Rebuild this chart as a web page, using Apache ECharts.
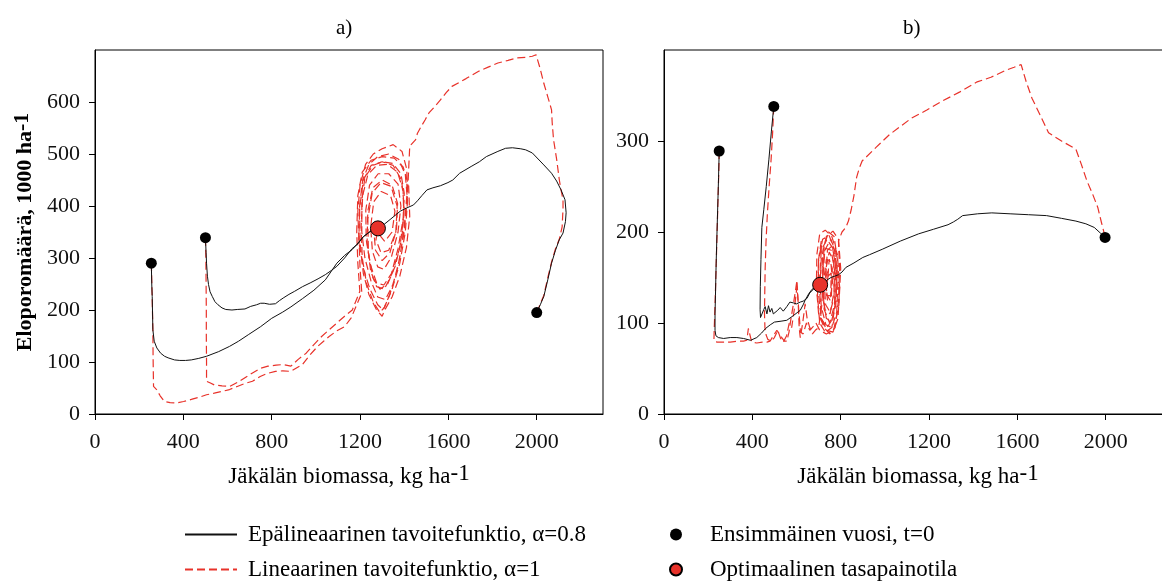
<!DOCTYPE html>
<html><head><meta charset="utf-8">
<script src="https://cdn.jsdelivr.net/npm/echarts@6/dist/echarts.min.js"></script>
<style>html,body{margin:0;padding:0;background:#fff}#c{width:1162px;height:586px}</style>
</head><body><div id="c"></div>
<script>
// ---- tick labels ----
const xTickLabels = [0, 400, 800, 1200, 1600, 2000];
const yTickLabelsA = [0, 100, 200, 300, 400, 500, 600];
const yTickLabelsB = [0, 100, 200, 300];
const panelTitles = ['a)', 'b)'];

// ---- series names ----
const nameNonlinear = 'Epälineaarinen tavoitefunktio, α=0.8';
const nameLinear = 'Lineaarinen tavoitefunktio, α=1';
const nameStart = 'Ensimmäinen vuosi, t=0';
const nameEq = 'Optimaalinen tasapainotila';

// ---- panel a: points [biomass, reindeer] ----
const aStart = [[255, 290], [500, 339], [2000, 195]];
const aEq = [[1281, 357]];
const aBlack1 = [[255,290],[257,250],[259,226],[262,162],[268,140],[280,127],[297,117],[315,111],[331,108],[360,104],[384,103],[410,103],[436,104],[470,107],[505,111],[560,120],[609,130],[650,140],[696,153],[750,168],[800,184],[850,196],[887,206],[940,222],[991,238],[1043,258],[1095,290],[1130,305],[1164,316],[1185,326],[1215,341],[1246,351],[1281,357]];
const aBlack2 = [[500,339],[503,310],[505,290],[509,265],[514,249],[521,235],[531,226],[543,216],[557,210],[575,204],[592,201],[620,200],[644,201],[679,202],[705,207],[731,210],[750,213],[766,213],[790,211],[817,212],[835,218],[852,223],[878,230],[904,236],[940,245],[974,252],[1010,260],[1043,268],[1070,276],[1095,284],[1130,300],[1164,318],[1190,327],[1215,341],[1246,351],[1281,357]];
const aBlack3 = [[2000,195],[2016,210],[2032,226],[2050,258],[2067,290],[2085,315],[2102,335],[2119,348],[2130,370],[2133,387],[2128,412],[2110,431],[2090,448],[2067,463],[2032,479],[1980,502],[1950,508],[1928,510],[1890,512],[1859,511],[1824,505],[1772,495],[1740,485],[1703,476],[1651,463],[1620,450],[1598,445],[1564,439],[1530,435],[1503,431],[1480,420],[1460,410],[1442,402],[1410,396],[1382,390],[1336,374],[1310,365],[1281,357]];
const aRed1 = [[255,290],[258,240],[262,162],[263,110],[265,53],[279,47],[295,35],[314,24],[340,22],[366,21],[401,24],[436,28],[470,32],[505,37],[540,40],[580,44],[609,47],[644,53],[680,59],[713,63],[748,72],[780,78],[817,82],[850,83],[887,82],[910,88],[939,95],[970,112],[1008,130],[1035,140],[1060,149],[1095,160],[1130,168],[1160,185],[1182,207],[1208,233],[1200,280],[1195,340],[1198,400],[1212,450],[1240,480],[1280,495],[1330,500],[1375,490],[1405,460],[1415,410],[1405,350],[1380,290],[1345,240],[1310,205],[1290,195],[1260,215],[1230,250],[1210,300],[1205,360],[1212,420],[1235,460],[1275,478],[1325,480],[1370,465],[1395,430],[1398,380],[1380,320],[1345,270],[1310,240],[1275,245],[1248,275],[1232,330],[1235,390],[1258,435],[1300,450],[1345,440],[1370,405],[1365,355],[1335,310],[1300,295],[1270,315],[1262,355],[1281,357]];
const aRed2 = [[500,339],[502,300],[503,250],[504,200],[504,150],[505,100],[505,63],[520,60],[540,56],[575,54],[609,53],[650,62],[713,79],[750,88],[783,92],[820,94],[852,95],[887,92],[920,105],[956,117],[990,133],[1026,149],[1060,162],[1095,175],[1130,188],[1165,200],[1199,236],[1190,290],[1185,350],[1190,420],[1210,465],[1250,488],[1300,495],[1355,492],[1395,475],[1420,440],[1425,380],[1410,320],[1380,265],[1345,225],[1312,200],[1300,188],[1275,200],[1240,230],[1215,270],[1200,330],[1198,395],[1215,450],[1250,478],[1300,485],[1350,478],[1388,450],[1400,400],[1390,340],[1360,285],[1325,250],[1290,240],[1258,262],[1238,310],[1235,375],[1255,425],[1295,445],[1340,438],[1368,400],[1362,350],[1330,315],[1295,310],[1272,335],[1281,357]];
const aRed3 = [[2000,195],[2016,212],[2032,228],[2050,262],[2067,292],[2085,318],[2102,336],[2115,360],[2119,395],[2119,412],[2110,431],[2102,451],[2090,490],[2076,528],[2070,560],[2067,585],[2050,610],[2032,636],[2015,665],[1997,691],[1980,688],[1950,686],[1911,685],[1870,680],[1824,675],[1780,667],[1737,659],[1680,645],[1616,630],[1590,618],[1564,604],[1540,592],[1512,579],[1495,566],[1477,553],[1460,540],[1451,527],[1425,515],[1420,470],[1415,420],[1400,350],[1370,280],[1335,230],[1305,200],[1280,210],[1245,240],[1215,280],[1195,330],[1190,390],[1200,440],[1225,480],[1260,500],[1300,510],[1350,518],[1390,505],[1412,470],[1412,420],[1400,360],[1380,300],[1350,250],[1315,220],[1280,225],[1250,255],[1222,300],[1208,350],[1208,410],[1222,455],[1258,478],[1300,485],[1348,482],[1385,462],[1400,425],[1395,375],[1372,318],[1342,270],[1308,248],[1275,252],[1247,287],[1228,335],[1226,392],[1243,440],[1282,462],[1330,462],[1372,442],[1385,400],[1372,350],[1342,302],[1308,278],[1280,283],[1256,313],[1248,360],[1262,408],[1296,428],[1338,420],[1358,390],[1345,350],[1312,332],[1287,345],[1281,357]];

// ---- panel b ----
const bStart = [[250, 289], [497, 338], [1997, 194]];
const bEq = [[707, 142]];
const bBlack1 = [[250,289],[247,260],[244,234],[240,200],[236,165],[233,130],[231,110],[231,92],[235,86],[246,84],[270,83],[300,84],[330,84],[360,83],[392,81],[420,84],[442,89],[460,94],[481,98],[500,101],[530,102],[556,103],[585,108],[617,114],[630,120],[639,125],[655,132],[670,137],[690,140],[707,142]];
const bBlack2 = [[497,338],[486,310],[475,280],[463,250],[452,225],[443,205],[439,170],[436,140],[435,115],[437,106],[443,106],[452,115],[458,118],[466,110],[473,119],[480,112],[488,116],[495,110],[503,112],[515,114],[526,117],[540,113],[556,118],[570,123],[587,122],[600,121],[617,123],[630,124],[647,127],[660,133],[680,138],[707,142]];
const bBlack3 = [[1997,194],[1975,199],[1948,205],[1910,209],[1865,212],[1800,215],[1732,218],[1650,219],[1567,220],[1484,221],[1420,220],[1352,218],[1330,214],[1310,211],[1286,208],[1220,203],[1153,198],[1070,190],[988,181],[930,175],[900,172],[860,166],[823,161],[806,156],[790,153],[756,150],[730,146],[707,142]];
const bRed1 = [[250,289],[248,265],[245,240],[241,205],[237,170],[233,135],[229,105],[227,90],[226,81],[240,79],[270,79],[300,79],[330,80],[360,80],[375,81],[382,94],[390,86],[397,79],[420,78],[445,79],[466,79],[480,80],[495,86],[511,92],[530,85],[545,80],[556,80],[566,90],[575,105],[586,121],[595,135],[602,147],[608,120],[612,95],[617,84],[628,100],[639,121],[648,105],[660,95],[672,88],[685,92],[700,95],[715,120],[720,160],[712,190],[700,170],[695,130],[705,100],[730,90],[760,95],[780,130],[785,170],[770,195],[745,200],[725,185],[718,150],[725,115],[750,100],[772,120],[778,160],[762,185],[740,180],[732,150],[740,125],[758,130],[762,160],[748,170],[742,150],[707,142]];
const bRed2 = [[497,338],[492,310],[485,280],[476,250],[468,220],[462,190],[458,160],[456,130],[455,110],[457,95],[462,87],[470,82],[485,80],[500,84],[515,92],[528,83],[540,79],[555,86],[567,100],[578,95],[590,115],[602,140],[610,115],[618,90],[630,88],[645,100],[660,92],[675,96],[688,100],[705,92],[735,88],[768,92],[792,120],[800,160],[790,192],[765,201],[735,195],[712,170],[705,135],[712,105],[738,95],[765,105],[782,140],[778,178],[755,192],[728,180],[718,145],[728,115],[752,110],[770,135],[768,168],[748,178],[732,158],[737,130],[755,130],[757,155],[707,142]];
const bRed3 = [[1997,195],[1980,211],[1964,227],[1940,242],[1915,256],[1890,274],[1865,291],[1800,300],[1741,309],[1700,330],[1666,347],[1640,365],[1617,384],[1585,381],[1550,378],[1480,370],[1418,365],[1340,354],[1253,343],[1190,334],[1120,325],[1070,316],[1021,307],[960,293],[897,278],[884,270],[872,260],[860,240],[848,225],[835,212],[823,205],[806,200],[790,190],[795,160],[790,125],[775,95],[750,88],[725,95],[700,110],[690,140],[692,175],[705,198],[730,202],[760,195],[785,175],[795,140],[788,105],[765,90],[738,92],[712,105],[698,135],[700,170],[718,192],[748,196],[772,180],[788,148],[782,112],[760,95],[733,98],[712,118],[705,150],[712,180],[738,192],[765,182],[780,155],[778,120],[758,102],[735,105],[718,130],[716,162],[732,182],[757,180],[772,158],[770,128],[752,112],[732,120],[724,148],[735,170],[755,168],[763,145],[752,125],[735,132],[730,150],[745,158],[740,146],[707,142]];

// ---- styling / layout ----
const serif = "'Liberation Serif', 'Times New Roman', serif";
const RED = '#e8322a';
const chart = echarts.init(document.getElementById('c'), null, { renderer: 'canvas' });

function xAxisFor(gi) {
  return {
    gridIndex: gi, type: 'value', min: 0, max: 2300, interval: 400,
    name: 'Jäkälän biomassa, kg ha{sup|-1}', nameLocation: 'middle', nameGap: 48,
    nameTextStyle: { fontFamily: serif, fontSize: 23, color: '#000', lineHeight: 30,
      rich: { sup: { fontFamily: serif, fontSize: 23, color: '#000', verticalAlign: 'top', lineHeight: 18 } } },
    axisLine: { show: true, lineStyle: { color: '#000', width: 1 } },
    axisTick: { show: true, inside: false, length: 6, lineStyle: { color: '#000' }, customValues: xTickLabels },
    splitLine: { show: false },
    axisLabel: { margin: 17, fontFamily: serif, fontSize: 22, color: '#111', customValues: xTickLabels,
      formatter: v => xTickLabels.indexOf(v) >= 0 ? String(v) : '' }
  };
}
function yAxisFor(gi, max, labels, withName) {
  const ax = {
    gridIndex: gi, type: 'value', min: 0, max: max, interval: 100,
    axisLine: { show: true, lineStyle: { color: '#000', width: 1 } },
    axisTick: { show: true, inside: false, length: 6, lineStyle: { color: '#000' }, customValues: labels },
    splitLine: { show: false },
    axisLabel: { margin: 15, fontFamily: serif, fontSize: 22, color: '#111', customValues: labels,
      formatter: v => labels.indexOf(v) >= 0 ? String(v) : '' }
  };
  if (withName) {
    ax.name = 'Eloporomäärä, 1000 ha{sup|-1}';
    ax.nameLocation = 'middle';
    ax.nameGap = 56;
    ax.nameTextStyle = { fontFamily: serif, fontSize: 22, fontWeight: 'bold', color: '#000', lineHeight: 28,
      rich: { sup: { fontFamily: serif, fontSize: 22, fontWeight: 'bold', color: '#000', verticalAlign: 'top', lineHeight: 17 } } };
  }
  return ax;
}
function blackLine(data, gi) {
  return { name: nameNonlinear, type: 'line', xAxisIndex: gi, yAxisIndex: gi, data: data,
    symbol: 'none', smooth: false, z: 3, lineStyle: { color: '#111', width: 1 }, itemStyle: { color: '#111' } };
}
function redLine(data, gi) {
  return { name: nameLinear, type: 'line', xAxisIndex: gi, yAxisIndex: gi, data: data,
    symbol: 'none', smooth: false, z: 2, lineStyle: { color: RED, width: 1.2, type: [8, 4] }, itemStyle: { color: RED } };
}
function startDots(data, gi) {
  return { name: nameStart, type: 'scatter', xAxisIndex: gi, yAxisIndex: gi, data: data,
    symbol: 'circle', symbolSize: 11, z: 5, itemStyle: { color: '#000', opacity: 1 } };
}
function eqDots(data, gi) {
  return { name: nameEq, type: 'scatter', xAxisIndex: gi, yAxisIndex: gi, data: data,
    symbol: 'circle', symbolSize: 15, z: 6, itemStyle: { color: RED, borderColor: '#000', borderWidth: 1, opacity: 1 } };
}

const legendText = { fontFamily: serif, fontSize: 23, color: '#000', lineHeight: 23 };

chart.setOption({
  animation: false,
  backgroundColor: '#fff',
  title: [
    { text: panelTitles[0], left: 331, top: 13, textStyle: { fontFamily: serif, fontSize: 21, fontWeight: 'normal', color: '#000' } },
    { text: panelTitles[1], left: 898, top: 13, textStyle: { fontFamily: serif, fontSize: 21, fontWeight: 'normal', color: '#000' } }
  ],
  grid: [
    { left: 95, top: 50, width: 508, height: 364, show: true, borderColor: '#000', borderWidth: 1, backgroundColor: 'transparent',
      containLabel: false, outerBoundsMode: 'none' },
    { left: 664, top: 50, width: 508, height: 364, show: true, borderColor: '#000', borderWidth: 1, backgroundColor: 'transparent',
      containLabel: false, outerBoundsMode: 'none' }
  ],
  xAxis: [xAxisFor(0), xAxisFor(1)],
  yAxis: [yAxisFor(0, 700, yTickLabelsA, true), yAxisFor(1, 400, yTickLabelsB, false)],
  legend: [
    { data: [{ name: nameNonlinear, icon: 'inherit' }, { name: nameLinear, icon: 'inherit' }],
      left: 184, top: 523, height: 62, padding: 0, orient: 'vertical', itemWidth: 52, itemHeight: 23,
      itemGap: 12, selectedMode: false, itemStyle: { opacity: 0 },
      textStyle: Object.assign({ padding: [0, 0, 0, 6] }, legendText) },
    { data: [nameStart, nameEq], left: 669, top: 523, height: 62, padding: 0, orient: 'vertical', itemWidth: 12, itemHeight: 23,
      itemGap: 12, selectedMode: false, itemStyle: { opacity: 1 },
      textStyle: Object.assign({ padding: [0, 0, 0, 23] }, legendText) }
  ],
  series: [
    redLine(aRed1, 0), redLine(aRed2, 0), redLine(aRed3, 0),
    blackLine(aBlack1, 0), blackLine(aBlack2, 0), blackLine(aBlack3, 0),
    startDots(aStart, 0), eqDots(aEq, 0),
    redLine(bRed1, 1), redLine(bRed2, 1), redLine(bRed3, 1),
    blackLine(bBlack1, 1), blackLine(bBlack2, 1), blackLine(bBlack3, 1),
    startDots(bStart, 1), eqDots(bEq, 1)
  ]
});
</script></body></html>
